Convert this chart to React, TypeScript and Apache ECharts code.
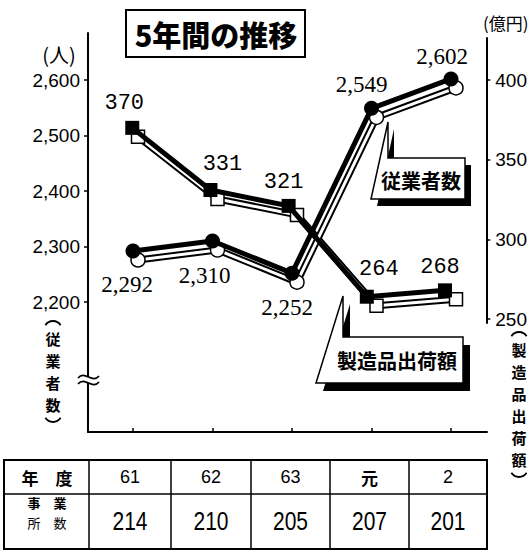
import React, { useEffect, useRef } from 'react';
import * as echarts from 'echarts';

// ---- data ----
const years = ['61', '62', '63', '元', '2'];
const employees = [2292, 2310, 2252, 2549, 2602];
const shipments = [370, 331, 321, 264, 268];
const establishments = [214, 210, 205, 207, 201];
const employeeTicks = [2200, 2300, 2400, 2500, 2600];
const shipmentTicks = [250, 300, 350, 400];

// ---- layout ----
const empLabelOffsets = [[-6, 34], [-8, 35], [-5, 34], [-10, -24], [-9, -22]];
const shipLabelOffsets = [[-8, -24], [12, -25], [-5, -23], [12, -27], [-5, -23]];
const X0 = 133;
const DX = 79.5;
const xr = (px: number) => (px - X0) / DX;
const SX = 5;
const SY = 9;
const CJK = "'Noto Sans CJK JP', sans-serif";
const fmt = (v: number) => v.toLocaleString('en-US');

function txt(x: number, y: number, text: string, fontSize: number, extra: any = {}) {
  const align = extra.align || 'center';
  const valign = extra.valign || 'middle';
  return {
    type: 'text',
    x,
    y,
    z: extra.z || 50,
    scaleX: extra.scaleX || 1,
    style: {
      text,
      fill: '#000',
      fontSize,
      fontFamily: extra.fontFamily || CJK,
      fontWeight: extra.fontWeight || 'normal',
      align,
      verticalAlign: valign,
      textAlign: align,
      textVerticalAlign: valign,
    },
  };
}

function vertical(x: number, top: number, chars: string, fontSize: number, pitch: number) {
  const out: any[] = [];
  Array.from(chars).forEach((c, i) => {
    out.push(txt(x, top + pitch * i + pitch / 2, c, fontSize, { fontWeight: 'bold' }));
  });
  const n = Array.from(chars).length;
  const r = 9;
  out.push({ type: 'arc', z: 50,
    shape: { cx: x, cy: top + 3, r, startAngle: Math.PI * 1.18, endAngle: Math.PI * 1.82 },
    style: { stroke: '#000', lineWidth: 1.8, fill: 'none' } });
  out.push({ type: 'arc', z: 50,
    shape: { cx: x, cy: top + pitch * n - 2, r, startAngle: Math.PI * 0.18, endAngle: Math.PI * 0.82 },
    style: { stroke: '#000', lineWidth: 1.8, fill: 'none' } });
  return out;
}

function buildOption() {
  const xIdx = [0, 1, 2, 3, 4];
  const hiddenX = (grid: number, right: number) => ({
    gridIndex: grid, type: 'value', min: xr(88), max: xr(right), show: false,
  });
  const hiddenY = (grid: number, min: number, max: number) => ({
    gridIndex: grid, type: 'value', min, max, show: false,
  });

  const colBounds = [4, 89, 171, 251, 330, 409, 487];
  const tableTop = 460, tableMid = 494, tableBottom = 549;
  const table: any[] = [
    { type: 'rect', z: 40, shape: { x: 4, y: tableTop, width: 483, height: tableBottom - tableTop },
      style: { fill: '#fff', stroke: '#000', lineWidth: 2 } },
    { type: 'line', z: 41, shape: { x1: 4, y1: tableMid, x2: 487, y2: tableMid },
      style: { stroke: '#000', lineWidth: 1.5 } },
  ];
  colBounds.slice(1, 6).forEach((cx) => {
    table.push({ type: 'line', z: 41, shape: { x1: cx, y1: tableTop, x2: cx, y2: tableBottom },
      style: { stroke: '#000', lineWidth: 1.5 } });
  });
  table.push(txt(47, 477, '年　度', 17, { fontWeight: 'bold' }));
  table.push(txt(47, 502, '事　業', 13, { fontWeight: 'bold' }));
  table.push(txt(47, 522, '所　数', 13));
  years.forEach((y, i) => {
    const cx = (colBounds[i + 1] + colBounds[i + 2]) / 2;
    const isNum = /^[0-9]+$/.test(y);
    table.push(txt(cx, 477, y, isNum ? 18 : 17, {
      fontFamily: isNum ? "'Liberation Sans', Arial, sans-serif" : CJK,
      fontWeight: isNum ? 'normal' : 'bold',
    }));
  });
  establishments.forEach((v, i) => {
    const cx = (colBounds[i + 1] + colBounds[i + 2]) / 2;
    table.push(txt(cx, 521, String(v), 25, {
      fontFamily: "'Liberation Sans', Arial, sans-serif", scaleX: 0.84,
    }));
  });

  const callout = (pts: number[][], sdx: number, sdy: number) => [
    { type: 'polygon', z: 60, shape: { points: pts.map(([x, y]) => [x + sdx, y + sdy]) },
      style: { fill: '#000' } },
    { type: 'polygon', z: 61, shape: { points: pts },
      style: { fill: '#fff', stroke: '#000', lineWidth: 1.5 } },
  ];

  const graphics: any[] = [
    // title
    { type: 'rect', z: 40, shape: { x: 126, y: 10, width: 179, height: 47 },
      style: { fill: '#fff', stroke: '#000', lineWidth: 2 } },
    txt(216, 34, '5年間の推移', 29, { fontWeight: 900 }),
    // axis units
    txt(59, 54, '(人)', 20),
    txt(483, 22, '(億円)', 17, { align: 'left' }),
    // vertical axis names
    ...vertical(53, 327, '従業者数', 15, 22),
    ...vertical(519, 338, '製造品出荷額', 15, 22),
    // axis break
    { type: 'rect', z: 50, shape: { x: 85, y: 377, width: 6, height: 6 }, style: { fill: '#fff' } },
    { type: 'bezierCurve', z: 51, shape: { x1: 78, y1: 378, x2: 99, y2: 376, cpx1: 85, cpy1: 370, cpx2: 92, cpy2: 384 },
      style: { stroke: '#000', lineWidth: 1.8, fill: 'none' } },
    { type: 'bezierCurve', z: 51, shape: { x1: 78, y1: 384, x2: 99, y2: 382, cpx1: 85, cpy1: 376, cpx2: 92, cpy2: 390 },
      style: { stroke: '#000', lineWidth: 1.8, fill: 'none' } },
    // callouts
    ...callout([[388, 122], [388, 158], [465, 158], [465, 199], [371, 199]], 6, 7),
    txt(421, 180, '従業者数', 20, { fontWeight: 'bold', z: 70 }),
    ...callout([[343, 296], [343, 337], [463, 337], [463, 383], [316, 383]], 7, 8),
    txt(397, 360, '製造品出荷額', 20, { fontWeight: 'bold', z: 70 }),
    ...table,
  ];

  const shadowLine = (grid: number, data: number[], symbol: string, size: number) => [
    {
      type: 'line', xAxisIndex: grid, yAxisIndex: grid, z: 1,
      data: data.map((v, i) => [xIdx[i], v]),
      symbol: 'none', lineStyle: { color: '#000', width: 7 }, silent: true,
    },
    {
      type: 'line', xAxisIndex: grid, yAxisIndex: grid, z: 2,
      data: data.map((v, i) => [xIdx[i], v]),
      symbol, symbolSize: size, showAllSymbol: true,
      lineStyle: { color: '#fff', width: 3 },
      itemStyle: { color: '#fff', borderColor: '#000', borderWidth: 1.5 },
      silent: true,
    },
  ];

  return {
    animation: false,
    backgroundColor: '#fff',
    grid: [
      { left: 88, top: 33, width: 399, height: 399 },
      { left: 88, top: 38, width: 405, height: 285 },
      { left: 88 + SX, top: 33 + SY, width: 399, height: 399 },
      { left: 88 + SX, top: 38 + SY, width: 405, height: 285 },
    ],
    xAxis: [
      {
        gridIndex: 0, type: 'value', min: xr(88), max: xr(487),
        axisLine: { show: true, onZero: false, lineStyle: { color: '#000', width: 2 } },
        axisTick: { show: true, inside: true, length: 4, customValues: xIdx, lineStyle: { color: '#000', width: 1.5 } },
        axisLabel: { show: false },
        splitLine: { show: false },
      },
      hiddenX(1, 493),
      hiddenX(2, 487),
      hiddenX(3, 493),
    ],
    yAxis: [
      {
        gridIndex: 0, type: 'value', position: 'left', min: 1965.8, max: 2684.7,
        axisLine: { show: true, onZero: false, lineStyle: { color: '#000', width: 2 } },
        axisTick: { show: true, length: 4, customValues: employeeTicks, lineStyle: { color: '#000', width: 1.5 } },
        axisLabel: {
          customValues: employeeTicks, formatter: (v: number) => fmt(v), color: '#000',
          fontSize: 19, fontFamily: "'Liberation Sans', Arial, sans-serif", margin: 8,
        },
        splitLine: { show: false },
      },
      {
        gridIndex: 1, type: 'value', position: 'right', min: 247.5, max: 426.4,
        axisLine: { show: true, onZero: false, lineStyle: { color: '#000', width: 2 } },
        axisTick: { show: true, length: 4, customValues: shipmentTicks, lineStyle: { color: '#000', width: 1.5 } },
        axisLabel: {
          customValues: shipmentTicks, color: '#000',
          fontSize: 19, fontFamily: "'Liberation Sans', Arial, sans-serif", margin: 9,
        },
        splitLine: { show: false },
      },
      hiddenY(2, 1965.8, 2684.7),
      hiddenY(3, 247.5, 426.4),
    ],
    series: [
      ...shadowLine(2, employees, 'circle', 14),
      ...shadowLine(3, shipments, 'rect', 13),
      {
        name: '製造品出荷額', type: 'line', xAxisIndex: 1, yAxisIndex: 1, z: 3,
        data: shipments.map((v, i) => ({ value: [xIdx[i], v], label: { offset: shipLabelOffsets[i] } })),
        symbol: 'rect', symbolSize: 14, showAllSymbol: true,
        lineStyle: { color: '#000', width: 5 },
        itemStyle: { color: '#000' },
        label: {
          show: true, position: 'inside', color: '#000', fontSize: 22,
          fontFamily: "'Liberation Mono', monospace",
          formatter: (p: any) => String(p.value[1]),
        },
      },
      {
        name: '従業者数', type: 'line', xAxisIndex: 0, yAxisIndex: 0, z: 3,
        data: employees.map((v, i) => ({ value: [xIdx[i], v], label: { offset: empLabelOffsets[i] } })),
        symbol: 'circle', symbolSize: 15, showAllSymbol: true,
        lineStyle: { color: '#000', width: 5 },
        itemStyle: { color: '#000' },
        label: {
          show: true, position: 'inside', color: '#000', fontSize: 23,
          fontFamily: "'Liberation Serif', serif",
          formatter: (p: any) => fmt(p.value[1]),
        },
      },
    ],
    graphic: { elements: graphics },
  };
}

export default function App() {
  const ref = useRef<HTMLDivElement>(null);
  useEffect(() => {
    if (!ref.current) return;
    const chart = echarts.init(ref.current, undefined, { renderer: 'svg' });
    chart.setOption(buildOption() as any);
    return () => chart.dispose();
  }, []);
  return (
    <div
      ref={ref}
      style={{ position: 'fixed', left: 0, top: 0, width: 530, height: 555, background: '#fff' }}
    />
  );
}
